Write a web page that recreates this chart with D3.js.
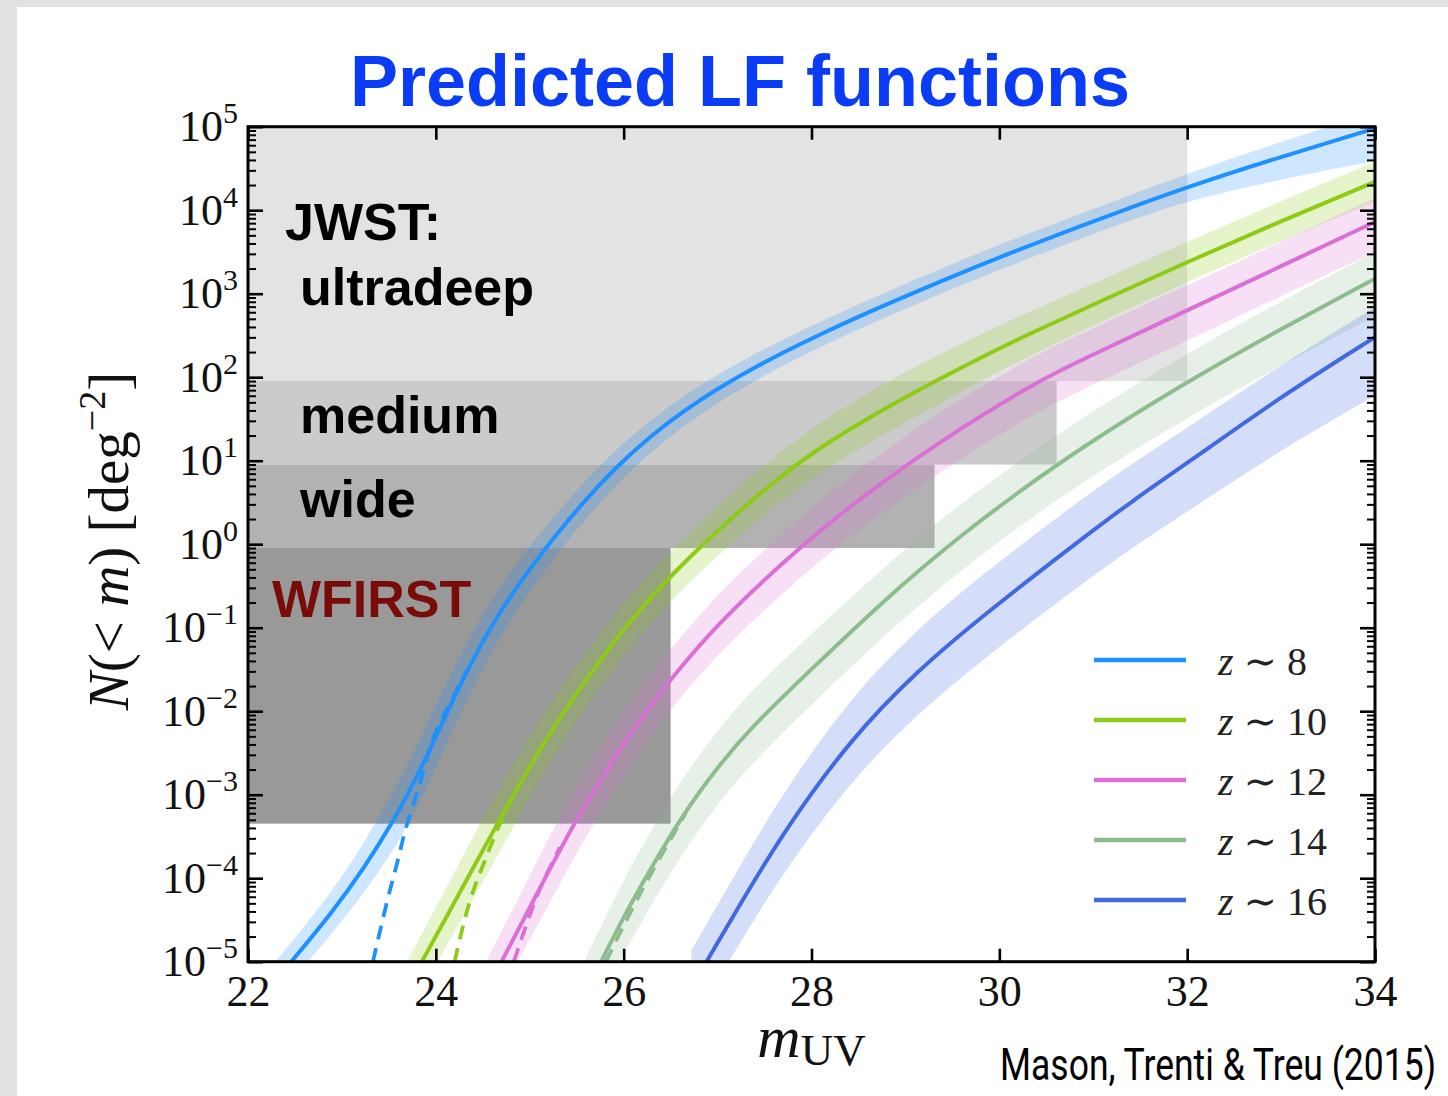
<!DOCTYPE html>
<html>
<head>
<meta charset="utf-8">
<script src="https://cdn.jsdelivr.net/npm/d3@7"></script>
<style>
  html, body { margin: 0; padding: 0; background: #e4e4e4; }
  svg { display: block; }
</style>
</head>
<body>
<div id="display"></div>
<script>
// ---- data: m_UV and log10 N(<m) [deg^-2] ----
// solid curves (with magnification bias), band offsets in dex (below / above)
const z8Mag   = [22.30, 22.46, 22.89, 23.24, 23.53, 23.78, 23.99, 24.33, 24.68, 25.22, 25.93, 26.64, 27.35, 28.06, 28.77, 29.48, 30.19, 30.75, 31.25, 32.0, 33.0, 34.0];
const z8LogN  = [-5.22, -5.0, -4.42, -3.87, -3.35, -2.83, -2.33, -1.51, -0.79, 0.05, 0.97, 1.62, 2.10, 2.50, 2.86, 3.20, 3.52, 3.76, 3.97, 4.28, 4.64, 4.98];
const z8BandLo = [0.23, 0.23, 0.25, 0.30, 0.35, 0.38, 0.38, 0.35, 0.30, 0.25, 0.21, 0.18, 0.16, 0.15, 0.15, 0.15, 0.15, 0.15, 0.15, 0.16, 0.27, 0.39];
const z8BandHi = [0.23, 0.23, 0.25, 0.30, 0.35, 0.38, 0.38, 0.35, 0.30, 0.25, 0.21, 0.18, 0.16, 0.15, 0.15, 0.15, 0.15, 0.15, 0.15, 0.16, 0.18, 0.20];

const z10Mag  = [23.68, 23.85, 24.13, 24.41, 24.64, 24.88, 25.09, 25.41, 25.95, 26.50, 27.35, 28.06, 28.77, 29.28, 29.69, 30.19, 30.54, 31.0, 32.0, 33.0, 34.0];
const z10LogN = [-5.35, -5.0, -4.43, -3.85, -3.38, -2.90, -2.49, -1.92, -1.07, -0.36, 0.53, 1.15, 1.62, 1.93, 2.17, 2.45, 2.63, 2.87, 3.38, 3.87, 4.34];
const z10BandLo = [0.33, 0.33, 0.35, 0.38, 0.38, 0.38, 0.36, 0.34, 0.32, 0.30, 0.30, 0.30, 0.30, 0.30, 0.28, 0.27, 0.26, 0.25, 0.24, 0.24, 0.24];
const z10BandHi = [0.33, 0.33, 0.35, 0.38, 0.38, 0.38, 0.36, 0.34, 0.32, 0.30, 0.30, 0.30, 0.30, 0.30, 0.28, 0.27, 0.26, 0.25, 0.24, 0.24, 0.24];

const z12Mag  = [24.55, 24.70, 24.95, 25.20, 25.46, 25.73, 25.98, 26.24, 26.50, 26.99, 27.77, 28.40, 29.09, 29.73, 30.43, 30.86, 32.0, 33.0, 34.0];
const z12LogN = [-5.32, -5.0, -4.46, -3.92, -3.37, -2.86, -2.42, -2.00, -1.62, -0.96, -0.14, 0.45, 1.01, 1.49, 1.96, 2.20, 2.80, 3.33, 3.86];
const z12BandLo = [0.36, 0.36, 0.38, 0.40, 0.40, 0.40, 0.38, 0.37, 0.36, 0.36, 0.36, 0.36, 0.36, 0.36, 0.36, 0.36, 0.36, 0.36, 0.36];
const z12BandHi = [0.36, 0.36, 0.38, 0.40, 0.40, 0.40, 0.38, 0.37, 0.36, 0.36, 0.36, 0.36, 0.36, 0.35, 0.33, 0.32, 0.30, 0.29, 0.29];

const z14Mag  = [25.60, 25.76, 26.0, 26.27, 26.64, 27.0, 27.35, 28.06, 28.77, 29.19, 29.61, 30.15, 30.86, 32.0, 33.0, 34.0];
const z14LogN = [-5.36, -5.0, -4.46, -3.92, -3.22, -2.67, -2.20, -1.43, -0.68, -0.27, 0.12, 0.58, 1.15, 1.95, 2.58, 3.18];
const z14BandLo = [0.42, 0.42, 0.44, 0.45, 0.45, 0.44, 0.44, 0.42, 0.42, 0.42, 0.42, 0.42, 0.42, 0.43, 0.44, 0.45];
const z14BandHi = [0.42, 0.42, 0.44, 0.45, 0.45, 0.44, 0.44, 0.42, 0.40, 0.40, 0.38, 0.37, 0.35, 0.34, 0.33, 0.32];

const z16Mag  = [26.72, 26.88, 27.30, 27.70, 28.41, 29.12, 29.83, 30.86, 31.43, 32.0, 33.0, 34.0];
const z16LogN = [-5.32, -5.0, -4.20, -3.45, -2.34, -1.52, -0.85, 0.05, 0.53, 0.97, 1.77, 2.48];
const z16BandLo = [0.45, 0.45, 0.46, 0.48, 0.50, 0.52, 0.52, 0.54, 0.56, 0.58, 0.64, 0.70];
const z16BandHi = [0.45, 0.45, 0.46, 0.48, 0.50, 0.50, 0.50, 0.48, 0.45, 0.42, 0.38, 0.36];

// dashed curves (no magnification bias), only where they leave the solid ones
const z8DashMag   = [23.33, 23.49, 23.60, 23.67, 23.78, 23.88, 23.97, 24.15, 24.33];
const z8DashLogN  = [-5.0, -4.22, -3.78, -3.42, -3.06, -2.66, -2.30, -1.90, -1.51];
const z10DashMag  = [24.20, 24.31, 24.41, 24.52, 24.62, 24.75, 24.90];
const z10DashLogN = [-5.0, -4.46, -4.10, -3.80, -3.50, -3.18, -2.86];
const z12DashMag  = [24.83, 24.98, 25.09, 25.20, 25.32];
const z12DashLogN = [-5.0, -4.50, -4.17, -3.90, -3.63];
const z14DashMag  = [25.81, 26.05, 26.31, 26.66];
const z14DashLogN = [-5.0, -4.45, -3.90, -3.22];

const seriesLabels = ['8', '10', '12', '14', '16'];
const seriesColors = ['#1e90ff', '#8dcb17', '#da70d6', '#8fbc8f', '#4169e1'];

// survey depth boxes
const surveyNames = ['ultradeep', 'medium', 'wide', 'WFIRST'];
const surveyMagLimit = [32.0, 30.61, 29.31, 26.50];
const surveyNLow  = [90, 9, 0.9, 4.5e-4];
const surveyNHigh = [1e5, 90, 9, 0.9];
const surveyFill = ['#e3e3e3', '#cbcbcb', '#b2b2b2', '#999999'];

const xTicks = [22, 24, 26, 28, 30, 32, 34];
const yDecades = [-5, -4, -3, -2, -1, 0, 1, 2, 3, 4, 5];

// ---- build ----
function pack(mag, logN, lo, hi) {
    return mag.map(function (m, i) {
        return { m: m, c: logN[i], lo: lo ? logN[i] - lo[i] : null, hi: hi ? logN[i] + hi[i] : null };
    });
}
const series = [
    { solid: pack(z8Mag, z8LogN, z8BandLo, z8BandHi), dash: pack(z8DashMag, z8DashLogN) },
    { solid: pack(z10Mag, z10LogN, z10BandLo, z10BandHi), dash: pack(z10DashMag, z10DashLogN) },
    { solid: pack(z12Mag, z12LogN, z12BandLo, z12BandHi), dash: pack(z12DashMag, z12DashLogN) },
    { solid: pack(z14Mag, z14LogN, z14BandLo, z14BandHi), dash: pack(z14DashMag, z14DashLogN) },
    { solid: pack(z16Mag, z16LogN, z16BandLo, z16BandHi), dash: [] }
];

const W = 1448, H = 1096;
const svg = d3.select('#display').append('svg')
    .attr('width', W)
    .attr('height', H);

// slide background
svg.append('rect').attr('width', W).attr('height', H).attr('fill', '#e2e2e2');
svg.append('rect').attr('x', 17).attr('y', 7).attr('width', W - 17).attr('height', H - 7).attr('fill', '#ffffff');

const x = d3.scaleLinear().domain([22, 34]).range([248, 1375]);
const y = d3.scaleLog().domain([1e-5, 1e5]).range([961.7, 126.7]);
const pow = function (v) { return Math.pow(10, v); };

svg.append('clipPath').attr('id', 'plot-clip')
    .append('rect')
    .attr('x', x(22)).attr('y', y(1e5))
    .attr('width', x(34) - x(22)).attr('height', y(1e-5) - y(1e5));

const plot = svg.append('g').attr('clip-path', 'url(#plot-clip)');

// survey boxes
plot.selectAll('rect.survey')
    .data(surveyNames)
    .enter()
    .append('rect')
    .attr('class', 'survey')
    .attr('x', x(22))
    .attr('y', function (d, i) { return y(surveyNHigh[i]); })
    .attr('width', function (d, i) { return x(surveyMagLimit[i]) - x(22); })
    .attr('height', function (d, i) { return y(surveyNLow[i]) - y(surveyNHigh[i]); })
    .attr('fill', function (d, i) { return surveyFill[i]; });

// bands and curves
const band = d3.area()
    .x(function (d) { return x(d.m); })
    .y0(function (d) { return y(pow(d.lo)); })
    .y1(function (d) { return y(pow(d.hi)); })
    .curve(d3.curveBasis);
const line = d3.line()
    .x(function (d) { return x(d.m); })
    .y(function (d) { return y(pow(d.c)); })
    .curve(d3.curveBasis);

series.forEach(function (s, i) {
    plot.append('path')
        .attr('d', band(s.solid))
        .attr('fill', seriesColors[i])
        .attr('fill-opacity', 0.22)
        .attr('stroke', 'none');
});
series.forEach(function (s, i) {
    if (s.dash.length) {
        plot.append('path')
            .attr('d', line(s.dash))
            .attr('fill', 'none')
            .attr('stroke', seriesColors[i])
            .attr('stroke-width', 3.8)
            .attr('stroke-dasharray', '14,9');
    }
    plot.append('path')
        .attr('d', line(s.solid))
        .attr('fill', 'none')
        .attr('stroke', seriesColors[i])
        .attr('stroke-width', 4);
});

// axes
const serif = '"Liberation Serif", "DejaVu Serif", serif';
const minorTicks = [];
yDecades.slice(0, -1).forEach(function (e) {
    for (let k = 2; k <= 9; k++) minorTicks.push(k * Math.pow(10, e));
});
const majorTicks = yDecades.map(pow);

function styleAxis(g) {
    g.select('.domain').remove();
    g.selectAll('.tick line').attr('stroke', '#000').attr('stroke-width', 2.6);
}

const gx = svg.append('g')
    .attr('transform', 'translate(0,' + y(1e-5) + ')')
    .call(d3.axisBottom(x).tickValues(xTicks).tickSize(-13).tickPadding(13).tickFormat(d3.format('d')))
    .call(styleAxis);
gx.selectAll('.tick text')
    .attr('font-family', serif)
    .attr('font-size', 44)
    .attr('fill', '#111');

svg.append('g')
    .attr('transform', 'translate(0,' + y(1e5) + ')')
    .call(d3.axisTop(x).tickValues(xTicks).tickSize(-13).tickFormat(''))
    .call(styleAxis);

const gy = svg.append('g')
    .attr('transform', 'translate(' + x(22) + ',0)')
    .call(d3.axisLeft(y).tickValues(majorTicks).tickSize(-15).tickPadding(10).tickFormat(''))
    .call(styleAxis);
svg.append('g')
    .attr('transform', 'translate(' + x(22) + ',0)')
    .call(d3.axisLeft(y).tickValues(minorTicks).tickSize(-8).tickFormat(''))
    .call(styleAxis)
    .selectAll('.tick line').attr('stroke-width', 2);
svg.append('g')
    .attr('transform', 'translate(' + x(34) + ',0)')
    .call(d3.axisRight(y).tickValues(majorTicks).tickSize(-15).tickFormat(''))
    .call(styleAxis);
svg.append('g')
    .attr('transform', 'translate(' + x(34) + ',0)')
    .call(d3.axisRight(y).tickValues(minorTicks).tickSize(-8).tickFormat(''))
    .call(styleAxis)
    .selectAll('.tick line').attr('stroke-width', 2);

gy.selectAll('.tick text').each(function (d) {
    const t = d3.select(this);
    const e = Math.round(Math.log10(d));
    t.text(null)
        .attr('font-family', serif)
        .attr('font-size', 44)
        .attr('fill', '#111');
    t.append('tspan').text('10');
    t.append('tspan').attr('font-size', 30).attr('dy', -18).text(String(e).replace('-', '\u2212'));
});

// frame
svg.append('rect')
    .attr('x', x(22)).attr('y', y(1e5))
    .attr('width', x(34) - x(22)).attr('height', y(1e-5) - y(1e5))
    .attr('fill', 'none')
    .attr('stroke', '#000')
    .attr('stroke-width', 3);

// axis labels
const ylab = svg.append('text')
    .attr('transform', 'translate(128,541) rotate(-90)')
    .attr('text-anchor', 'middle')
    .attr('font-family', serif)
    .attr('font-size', 57)
    .attr('fill', '#111');
ylab.append('tspan').attr('font-style', 'italic').text('N');
ylab.append('tspan').text('(< ');
ylab.append('tspan').attr('font-style', 'italic').text('m');
ylab.append('tspan').text(')  [deg');
ylab.append('tspan').attr('font-size', 38).attr('dy', -23).text('\u22122');
ylab.append('tspan').attr('dy', 23).text(']');

const xlab = svg.append('text')
    .attr('x', x(28))
    .attr('y', 1057)
    .attr('text-anchor', 'middle')
    .attr('font-family', serif)
    .attr('fill', '#111');
xlab.append('tspan').attr('font-style', 'italic').attr('font-size', 60).text('m');
xlab.append('tspan').attr('font-size', 45).attr('dy', 8).text('UV');

// survey labels
const sans = '"Liberation Sans", Arial, Helvetica, sans-serif';
const boxLabels = [
    { text: 'JWST:', x: 285, y: 240, color: '#000' },
    { text: 'ultradeep', x: 300, y: 305, color: '#000' },
    { text: 'medium', x: 300, y: 433, color: '#000' },
    { text: 'wide', x: 300, y: 517, color: '#000' },
    { text: 'WFIRST', x: 272, y: 617, color: '#7a0c08' }
];
svg.selectAll('text.box-label')
    .data(boxLabels)
    .enter()
    .append('text')
    .attr('class', 'box-label')
    .attr('x', function (d) { return d.x; })
    .attr('y', function (d) { return d.y; })
    .attr('font-family', sans)
    .attr('font-weight', 'bold')
    .attr('font-size', 52)
    .attr('fill', function (d) { return d.color; })
    .text(function (d) { return d.text; });

// legend
const legend = svg.append('g');
seriesLabels.forEach(function (lab, i) {
    const ly = 660 + i * 60;
    legend.append('line')
        .attr('x1', 1094).attr('x2', 1186)
        .attr('y1', ly).attr('y2', ly)
        .attr('stroke', seriesColors[i])
        .attr('stroke-width', 4.5);
    const t = legend.append('text')
        .attr('x', 1218).attr('y', ly + 15)
        .attr('font-family', serif)
        .attr('font-size', 40)
        .attr('fill', '#222');
    t.append('tspan').attr('font-style', 'italic').text('z');
    t.append('tspan').text(' \u223C ' + lab);
});

// title and credit
svg.append('text')
    .attr('x', 740)
    .attr('y', 106)
    .attr('text-anchor', 'middle')
    .attr('font-family', sans)
    .attr('font-weight', 'bold')
    .attr('font-size', 72)
    .attr('fill', '#0a3cf5')
    .text('Predicted LF functions');

svg.append('text')
    .attr('x', 1000)
    .attr('y', 1080)
    .attr('font-family', '"Liberation Sans Narrow", "Roboto", sans-serif')
    .attr('font-size', 45)
    .attr('textLength', 436)
    .attr('lengthAdjust', 'spacingAndGlyphs')
    .attr('fill', '#000')
    .text('Mason, Trenti & Treu (2015)');
</script>
</body>
</html>
